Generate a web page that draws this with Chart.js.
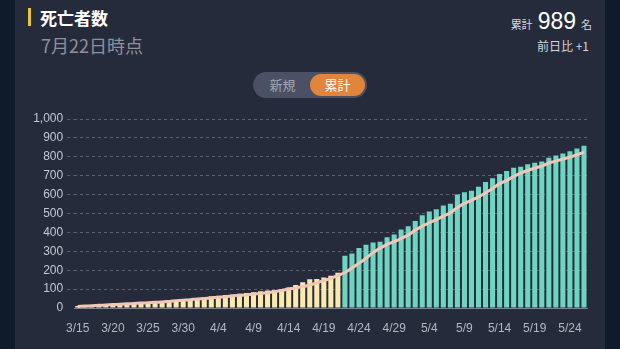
<!DOCTYPE html>
<html lang="ja">
<head>
<meta charset="utf-8">
<script src="https://cdn.jsdelivr.net/npm/chart.js@4"></script>
<style>
  html, body { margin: 0; padding: 0; }
  body {
    width: 620px; height: 349px; overflow: hidden;
    background: #0f1a2b;
    font-family: "Liberation Sans", "Noto Sans CJK JP", sans-serif;
    position: relative;
  }
  .card {
    position: absolute; left: 15px; top: 0; width: 590px; height: 360px;
    background: #262b3b;
  }
  .accent { position: absolute; left: 28px; top: 8px; width: 3px; height: 18px; background: #e8c53a; }
  .title {
    position: absolute; left: 40px; top: 6px; font-size: 17px; font-weight: bold; color: #fff;
    font-family: "Noto Sans CJK JP", sans-serif; line-height: 24px;
  }
  .sub {
    position: absolute; left: 41px; top: 33px; font-size: 18px; color: #8d919d;
    font-family: "Noto Sans CJK JP", sans-serif; line-height: 24px;
  }
  .total { position: absolute; right: 28px; top: 8px; color: #fff; white-space: nowrap; }
  .total .lbl { font-size: 11px; color: #d3d6dd; font-family: "Noto Sans CJK JP", sans-serif; }
  .total .num { font-size: 23px; margin: 0 5px; }
  .diff {
    position: absolute; right: 31px; top: 37px; font-size: 12px; color: #d3d6dd;
    font-family: "Noto Sans CJK JP", sans-serif;
  }
  .toggle {
    position: absolute; left: 253px; top: 72px; width: 114px; height: 26px;
    border-radius: 13px; background: #4b5064;
  }
  .toggle span {
    position: absolute; top: 2px; height: 22px; line-height: 22px; text-align: center;
    font-size: 13px; font-family: "Noto Sans CJK JP", sans-serif; border-radius: 11px;
  }
  .toggle .off { left: 2px; width: 55px; color: #a3a7b3; }
  .toggle .on { left: 57px; width: 55px; color: #fff; background: #e0853b; }
  .wrap { position: absolute; left: 15px; top: 105px; width: 590px; height: 240px; }
</style>
</head>
<body>
<div class="card"></div>
<div class="accent"></div>
<div class="title">死亡者数</div>
<div class="sub">7月22日時点</div>
<div class="total"><span class="lbl">累計</span><span class="num">989</span><span class="lbl">名</span></div>
<div class="diff">前日比 +1</div>
<div class="toggle"><span class="off">新規</span><span class="on">累計</span></div>
<div class="wrap"><canvas id="chart" width="590" height="240"></canvas></div>

<script>
"use strict";

/* ---------------- DATA ---------------- */

// 3/15 - 4/21 (old source, yellow bars)
const earlyTotals = [
  10, 12, 14, 16, 18, 20, 22, 24, 26, 28, 30, 32, 34, 37, 40, 43, 47,
  52, 57, 62, 65, 69, 72, 76, 80, 83, 88, 92, 95, 101, 108, 122, 136, 152, 154, 161, 171, 187,
];

// 4/22 - 5/26 (teal bars)
const lateTotals = [
  277, 288, 318, 335, 347, 351, 375, 389, 416, 432, 460, 491, 511, 523, 542, 551, 600, 612,
  621, 642, 667, 686, 709, 725, 742, 747, 761, 768, 775, 795, 807, 818, 830, 844, 858,
];

// smoothed trend line
const trendValues = [
  8, 10, 12, 14, 16, 18, 20, 22, 24, 26, 28, 30, 32, 35, 38, 41, 44,
  48, 50, 53, 57, 60, 64, 67, 70, 74, 77, 81, 87, 93, 100, 106, 113, 122, 133, 145, 157, 172,
  188, 211, 237, 263, 293, 316, 337, 351, 368, 386, 412, 433, 451, 468, 486, 504, 532, 553,
  570, 588, 609, 632, 658, 675, 696, 714, 728, 740, 751, 767, 777, 788, 798, 811, 825,
];

const yTicks = [0, 100, 200, 300, 400, 500, 600, 700, 800, 900, 1000];

/* ---------------- LABELS ---------------- */

function buildDayLabels(count) {
  const out = [];
  const d = new Date(2020, 2, 15);
  for (let i = 0; i < count; i++) {
    out.push(`${d.getMonth() + 1}/${d.getDate()}`);
    d.setDate(d.getDate() + 1);
  }
  return out;
}

const totals = earlyTotals.concat(lateTotals);
const labels = buildDayLabels(totals.length);

const YELLOW = "#fbe9ad";
const TEAL = "#6fd5c3";
const barColors = totals.map((_, i) => (i < earlyTotals.length ? YELLOW : TEAL));

/* ---------------- CHART ---------------- */

const tickFont = { family: "'Liberation Sans', Arial, sans-serif", size: 12 };
const GRID = "#5d6273";
const hideZero = (c) => (c.tick && c.tick.value === 0 ? "rgba(0,0,0,0)" : GRID);

new Chart(document.getElementById("chart"), {
  type: "bar",
  data: {
    labels,
    datasets: [
      {
        type: "line",
        data: trendValues,
        borderColor: "#f2c7b7",
        borderWidth: 3,
        pointRadius: 0,
        tension: 0.4,
        fill: false,
        order: 0,
      },
      {
        data: totals,
        backgroundColor: barColors,
        categoryPercentage: 1,
        barPercentage: 0.72,
        order: 1,
      },
    ],
  },
  options: {
    responsive: false,
    animation: false,
    events: [],
    layout: { padding: { top: 14, right: 17.5, left: 0, bottom: 0 } },
    plugins: {
      legend: { display: false },
      tooltip: { enabled: false },
    },
    scales: {
      x: {
        grid: { display: false },
        border: { display: true, color: "#80848f", width: 1 },
        ticks: {
          color: "#b3b7c1",
          font: tickFont,
          maxRotation: 0,
          autoSkip: false,
          padding: 5,
          callback: (v, i) => (i % 5 === 0 ? labels[i] : ""),
        },
        afterFit: (s) => { s.height = 37; },
      },
      y: {
        min: 0,
        max: 1000,
        afterBuildTicks: (s) => { s.ticks = yTicks.map(v => ({ value: v })); },
        grid: {
          color: hideZero,
          lineWidth: 1,
          tickLength: 7,
          tickColor: hideZero,
          tickBorderDash: [3, 3],
        },
        border: { display: false, dash: [3, 3] },
        ticks: {
          color: "#c4c7cf",
          font: tickFont,
          padding: 4,
          callback: (v) => v.toLocaleString("en-US"),
        },
        afterFit: (s) => { s.width = 59.2; },
      },
    },
  },
});
</script>
</body>
</html>
